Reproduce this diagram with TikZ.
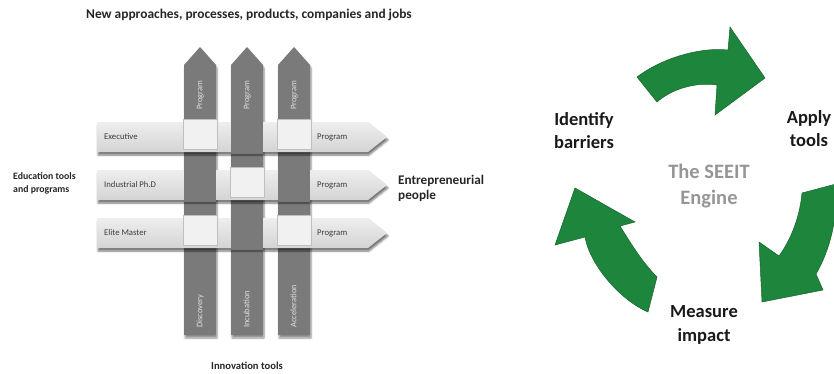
\documentclass[tikz,border=0pt]{standalone}
\usepackage{fontspec}
\setmainfont{Carlito}
\usetikzlibrary{shadows.blur}
\definecolor{colgray}{RGB}{122,122,122}
\definecolor{barlight}{RGB}{238,238,238}
\definecolor{bardark}{RGB}{212,212,212}
\definecolor{crosslight}{RGB}{241,241,241}
\definecolor{arrowgreen}{RGB}{30,133,60}
\definecolor{enginegray}{RGB}{150,150,150}
\definecolor{bartextcol}{RGB}{60,60,60}
\begin{document}
\begin{tikzpicture}[x=1pt,y=-1pt,
  colarrow/.style={fill=colgray, blur shadow={shadow xshift=1pt, shadow yshift=-3pt, shadow blur steps=6, shadow opacity=45}},
  barshape/.style={top color=barlight, bottom color=bardark, blur shadow={shadow xshift=1pt, shadow yshift=-3pt, shadow blur steps=6, shadow opacity=55}},
  crossbox/.style={fill=crosslight, draw=black!25, line width=0.3pt},
  colover/.style={fill=colgray},
  bartext/.style={font=\fontsize{8.7}{10}\selectfont, text=bartextcol, anchor=mid west, inner sep=0pt},
  coltext/.style={font=\fontsize{8.5}{10}\selectfont, text=black!12, rotate=90, anchor=mid west, inner sep=0pt},
  sidetext/.style={font=\bfseries\fontsize{9.8}{13}\selectfont, text=black!85, align=left, inner sep=0pt},
  cycletext/.style={font=\bfseries\fontsize{18.5}{23}\selectfont, text=black!90, align=center, inner sep=0pt},
  greenarrow/.style={fill=arrowgreen, draw=arrowgreen!75!black, line width=0.5pt, line join=miter}
]
\useasboundingbox (0,0) rectangle (834,373);

% ---------- vertical innovation columns ----------
\foreach \xa/\xb in {184/216, 231/263, 278/310}{
  \path[colarrow] (\xa,335) -- (\xa,65) -- ({(\xa+\xb)/2},47) -- (\xb,65) -- (\xb,335) -- cycle;
}

% ---------- horizontal education bars ----------
\foreach \r in {137,185,233}{
  \path[barshape] (97,\r-15) -- (368,\r-15) -- (387,\r) -- (368,\r+15) -- (97,\r+15) -- cycle;
}

% ---------- weave crossings ----------
% row 1
\draw[crossbox] (183,119) rectangle (217,149);
\fill[colover] (231,120) rectangle (263,154);
\draw[crossbox] (277,119) rectangle (311,149);
% row 2
\fill[colover] (184,168) rectangle (216,202);
\draw[crossbox] (230,167) rectangle (264,197);
\fill[colover] (278,168) rectangle (310,202);
% row 3
\draw[crossbox] (183,215) rectangle (217,245);
\fill[colover] (231,216) rectangle (263,250);
\draw[crossbox] (277,215) rectangle (311,245);

% ---------- texts in bars ----------
\node[bartext] (exec) at (104,137) {Executive};
\node[bartext] (indphd) at (104,185) {Industrial Ph.D};
\node[bartext] (elite) at (104,233) {Elite Master};
\node[bartext] (prog1) at (317,137) {Program};
\node[bartext] (prog2) at (317,185) {Program};
\node[bartext] (prog3) at (317,233) {Program};

% ---------- texts in columns ----------
\node[coltext] (vprog1) at (200,110) {Program};
\node[coltext] (vprog2) at (247,110) {Program};
\node[coltext] (vprog3) at (294,110) {Program};
\node[coltext] (disc) at (200,328) {Discovery};
\node[coltext] (incu) at (247,328) {Incubation};
\node[coltext] (accel) at (294,328) {Acceleration};

% ---------- outer labels ----------
\node[font=\bfseries\fontsize{13.4}{15}\selectfont, text=black!85, inner sep=0pt] (title) at (249,15) {New approaches, processes, products, companies and jobs};
\node[sidetext, font=\bfseries\fontsize{10.6}{13}\selectfont] (innov) at (247,366) {Innovation tools};
\node[sidetext, anchor=west] (edu) at (13,183) {Education tools\\and programs};
\node[font=\bfseries\fontsize{13.2}{15}\selectfont, text=black!85, align=left, inner sep=0pt, anchor=west] (entre) at (398,188) {Entrepreneurial\\people};

% ---------- SEEIT engine cycle ----------
% top arrow
\path[greenarrow] (637,77) .. controls (662,58) and (700,47) .. (728,50)
  -- (730,27) -- (765,78) -- (715,115) -- (717,85)
  .. controls (697,82) and (673,88) .. (657,102) -- cycle;
% right arrow
\path[greenarrow] (802,193) -- (836,184)
  .. controls (838,218) and (830,250) .. (816,274)
  -- (823,290) -- (762,302) -- (759,242) -- (779,256)
  .. controls (792,238) and (800,215) .. (802,193) -- cycle;
% left arrow
\path[greenarrow] (575,188) -- (635,222) -- (620,226)
  .. controls (630,242) and (642,262) .. (657,277)
  -- (648,312)
  .. controls (620,300) and (590,265) .. (585,237)
  -- (555,245) -- cycle;

\node[cycletext] (identify) at (584,131) {Identify\\barriers};
\node[cycletext] (apply) at (809,129) {Apply\\tools};
\node[cycletext, text=enginegray, font=\bfseries\fontsize{20.5}{26}\selectfont] (engine) at (709,186) {The SEEIT\\Engine};
\node[cycletext, font=\bfseries\fontsize{18.5}{24}\selectfont] (measure) at (704,325) {Measure\\impact};
\end{tikzpicture}
\end{document}
